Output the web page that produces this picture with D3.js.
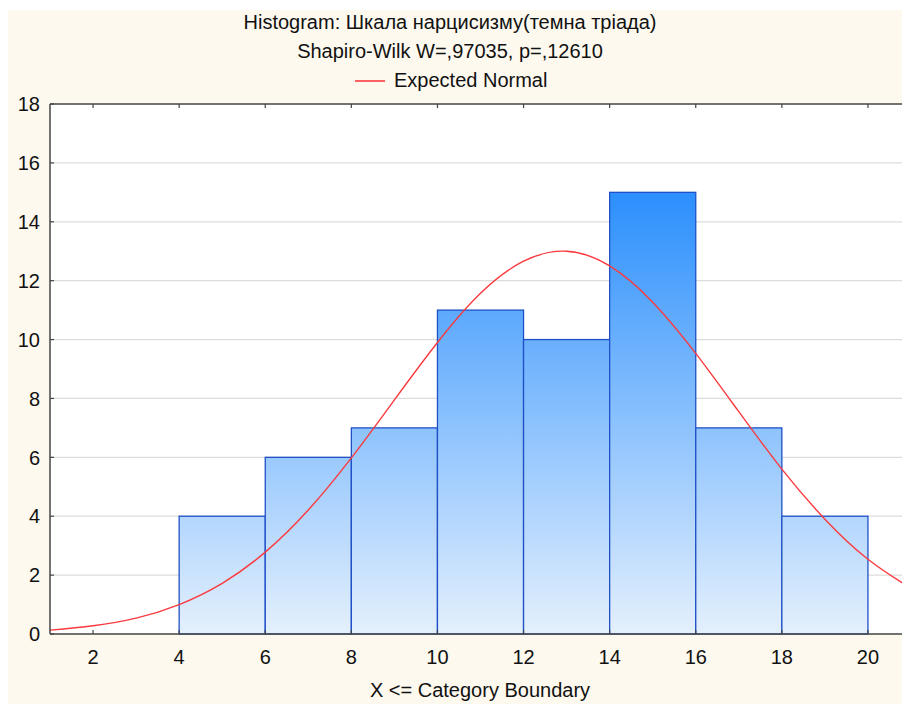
<!DOCTYPE html>
<html>
<head>
<meta charset="utf-8">
<title>Histogram</title>
<style>
  body { margin: 0; background: #fff; }
  svg { display: block; font-family: "Liberation Sans", Arial, sans-serif; }
</style>
<script src="https://d3js.org/d3.v7.min.js"></script>
</head>
<body>
<div id="chart"></div>
<script>
// histogram bins (upper boundaries) and counts
var binEdges = [4, 6, 8, 10, 12, 14, 16, 18, 20];
var counts = [4, 6, 7, 11, 10, 15, 7, 4];

// expected normal curve
var normalX = [1, 2, 3, 4, 5, 6, 7, 8, 9, 10, 11, 12, 13, 14, 15, 16, 17, 18, 19, 20, 21];
var normalY = [0.13, 0.28, 0.54, 1.0, 1.72, 2.78, 4.21, 5.98, 7.95, 9.9, 11.57, 12.66, 13.0, 12.5, 11.27, 9.53, 7.55, 5.6, 3.9, 2.54, 1.55];

var xTicks = [2, 4, 6, 8, 10, 12, 14, 16, 18, 20];
var yTicks = [0, 2, 4, 6, 8, 10, 12, 14, 16, 18];

var title = "Histogram: Шкала нарцисизму(темна тріада)";
var subtitle = "Shapiro-Wilk W=,97035, p=,12610";
var legendLabel = "Expected Normal";
var xTitle = "X <= Category Boundary";

var W = 902, H = 704;
// plot edges (right edge runs past the window, like the original)
var pl = 50, pt = 104, pr = 911, pb = 634;

var svg = d3.select("#chart").append("svg")
    .attr("width", W)
    .attr("height", H);

// cream background
svg.append("rect")
    .attr("x", 8).attr("y", 10)
    .attr("width", W - 8).attr("height", H - 10)
    .attr("fill", "#fdf9ef");

var x = d3.scaleLinear().domain([1, 21]).range([pl, pr]);
var y = d3.scaleLinear().domain([0, 18]).range([pb, pt]);

// plot area
svg.append("rect")
    .attr("x", pl).attr("y", pt)
    .attr("width", pr - pl).attr("height", pb - pt)
    .attr("fill", "#fff");

var defs = svg.append("defs");
defs.append("clipPath").attr("id", "plotclip")
  .append("rect")
    .attr("x", pl).attr("y", pt)
    .attr("width", pr - pl).attr("height", pb - pt);

var grad = defs.append("linearGradient")
    .attr("id", "barfill")
    .attr("gradientUnits", "userSpaceOnUse")
    .attr("x1", 0).attr("x2", 0)
    .attr("y1", y(15)).attr("y2", y(0));
grad.append("stop").attr("offset", 0).attr("stop-color", "#2b8ffd");
grad.append("stop").attr("offset", 1).attr("stop-color", "#e4f0fd");

// gridlines
svg.append("g")
  .selectAll("line")
  .data(yTicks.filter(function(d) { return d > 0 && d < 18; }))
  .enter().append("line")
    .attr("x1", pl).attr("x2", pr)
    .attr("y1", function(d) { return y(d); })
    .attr("y2", function(d) { return y(d); })
    .attr("stroke", "#dcdcdc")
    .attr("stroke-width", 1.2);

// bars
svg.append("g")
  .selectAll("rect")
  .data(counts)
  .enter().append("rect")
    .attr("x", function(d, i) { return x(binEdges[i]); })
    .attr("width", function(d, i) { return x(binEdges[i + 1]) - x(binEdges[i]); })
    .attr("y", function(d) { return y(d); })
    .attr("height", function(d) { return y(0) - y(d); })
    .attr("fill", "url(#barfill)")
    .attr("stroke", "#1f50c8")
    .attr("stroke-width", 1.3);

// expected normal curve
var line = d3.line()
    .x(function(d, i) { return x(normalX[i]); })
    .y(function(d) { return y(d); })
    .curve(d3.curveNatural);

svg.append("path")
    .datum(normalY)
    .attr("clip-path", "url(#plotclip)")
    .attr("d", line)
    .attr("fill", "none")
    .attr("stroke", "#fa3a3f")
    .attr("stroke-width", 1.4);

// axes
var axisG = svg.append("g").attr("stroke", "#444").attr("stroke-width", 1.5);
axisG.append("line").attr("x1", pl).attr("x2", pl).attr("y1", pt).attr("y2", pb);
axisG.append("line").attr("x1", pl).attr("x2", pr).attr("y1", pb).attr("y2", pb);
axisG.append("line").attr("x1", pl).attr("x2", pr).attr("y1", pt).attr("y2", pt);

var tickG = svg.append("g").attr("stroke", "#444").attr("stroke-width", 1.2);
tickG.selectAll(".yt").data(yTicks).enter().append("line")
    .attr("x1", pl).attr("x2", pl + 4)
    .attr("y1", function(d) { return y(d); })
    .attr("y2", function(d) { return y(d); });
tickG.selectAll(".xb").data(xTicks).enter().append("line")
    .attr("x1", function(d) { return x(d); })
    .attr("x2", function(d) { return x(d); })
    .attr("y1", pb).attr("y2", pb - 4);
tickG.selectAll(".xt").data(xTicks).enter().append("line")
    .attr("x1", function(d) { return x(d); })
    .attr("x2", function(d) { return x(d); })
    .attr("y1", pt).attr("y2", pt + 4);

// tick labels
svg.append("g")
  .selectAll("text")
  .data(yTicks)
  .enter().append("text")
    .attr("x", 40)
    .attr("y", function(d) { return y(d); })
    .attr("dy", "0.36em")
    .attr("text-anchor", "end")
    .attr("font-size", 20)
    .attr("fill", "#111")
    .text(function(d) { return d; });

svg.append("g")
  .selectAll("text")
  .data(xTicks)
  .enter().append("text")
    .attr("x", function(d) { return x(d); })
    .attr("y", 664)
    .attr("text-anchor", "middle")
    .attr("font-size", 20)
    .attr("fill", "#111")
    .text(function(d) { return d; });

// titles
svg.append("text")
    .attr("x", 450).attr("y", 29)
    .attr("text-anchor", "middle")
    .attr("font-size", 20)
    .attr("fill", "#111")
    .text(title);

svg.append("text")
    .attr("x", 450).attr("y", 58)
    .attr("text-anchor", "middle")
    .attr("font-size", 20)
    .attr("fill", "#111")
    .text(subtitle);

// legend
svg.append("line")
    .attr("x1", 355).attr("x2", 385)
    .attr("y1", 81).attr("y2", 81)
    .attr("stroke", "#fa3a3f")
    .attr("stroke-width", 1.6);
svg.append("text")
    .attr("x", 394).attr("y", 87)
    .attr("font-size", 20)
    .attr("fill", "#111")
    .text(legendLabel);

svg.append("text")
    .attr("x", 480).attr("y", 697)
    .attr("text-anchor", "middle")
    .attr("font-size", 20)
    .attr("fill", "#111")
    .text(xTitle);
</script>
</body>
</html>
